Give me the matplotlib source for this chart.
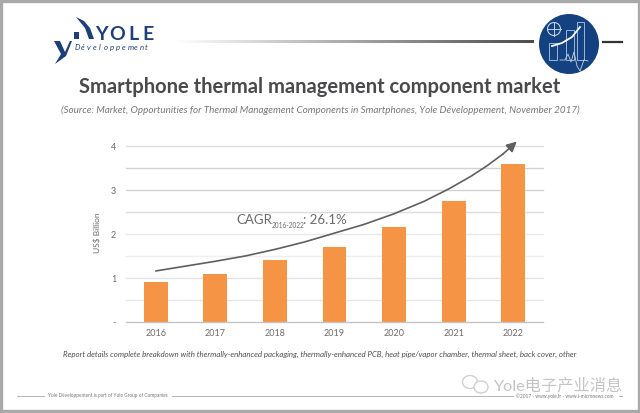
import numpy as np
import matplotlib
matplotlib.use("Agg")
import matplotlib.pyplot as plt
from matplotlib.patches import Circle, Polygon, Rectangle, Ellipse

plt.rcParams['font.family'] = ['Lato', 'Noto Sans CJK SC', 'DejaVu Sans']

# Chart data
years = ['2016', '2017', '2018', '2019', '2020', '2021', '2022']
market = [0.90, 1.10, 1.41, 1.71, 2.16, 2.74, 3.60]
y_ticks = [0, 1, 2, 3, 4]
y_tick_labels = ['-', '1', '2', '3', '4']
grid_levels = [0.5, 1, 1.5, 2, 2.5, 3, 3.5, 4]
grid_colors = ['#e6e6e6', '#e2e2e2', '#efefef', '#e8e8e8', '#dcdcdc', '#d2d2d4', '#d2d2d4', '#dcdcdc']

# CAGR arrow, category position against value
curve_x = [0, 0.5, 1, 1.5, 2, 2.5, 3, 3.5, 4, 4.5, 4.94, 5.3, 5.56, 5.83, 6.06]
curve_y = [1.16, 1.27, 1.38, 1.50, 1.65, 1.82, 2.02, 2.22, 2.46, 2.74, 3.04, 3.32, 3.55, 3.82, 4.10]

GREY = '#6b6b6d'
NAVY = '#1d3f77'

fig = plt.figure(figsize=(6.4, 4.13), dpi=100, facecolor='white')

# Page furniture in pixel coordinates
bg = fig.add_axes([0, 0, 1, 1], zorder=0)
bg.axis('off')

bg.add_patch(Rectangle((1, 1), 637.5, 409.5, fill=False, ec='#a9a9a9', lw=2.4))

# Header rule with fade in
fade = np.linspace(1, 0.3, 256).reshape(1, -1)
bg.imshow(fade, extent=(175, 534, 43.5, 40.8), cmap='gray', vmin=0, vmax=1, aspect='auto')
bg.set_xlim(0, 640)
bg.set_ylim(413, 0)
bg.plot([603, 622], [42, 42], color='#333333', lw=1.6)

# Logo
bg.add_patch(Polygon([(76, 17), (84, 21), (90, 28), (94, 39), (89, 39), (85, 28)], color=NAVY, lw=0))
bg.add_patch(Rectangle((74, 32), 5, 7, color=NAVY, lw=0))
bg.add_patch(Polygon([(54, 41), (60, 41), (65, 52), (70, 41), (72, 41), (66, 56), (55, 64), (61, 54)], color=NAVY, lw=0))
for letter, lx in zip('YOLE', [95, 109, 128, 142]):
    bg.text(lx, 34, letter, fontsize=14, fontweight='bold', color=NAVY, va='center', ha='left')
for i, letter in enumerate('Développement'):
    bg.text(75 + i * 5.85, 47.5, letter, fontsize=5.6, style='italic', color=NAVY, va='center', ha='left')

# Badge
bg.add_patch(Circle((569, 44), 30, color='#14417f', lw=0))
for rx, ry, rw, rh in [(549, 43, 8, 17), (566, 30, 8, 30), (577, 22, 7, 38)]:
    bg.add_patch(Rectangle((rx, ry), rw, rh, fill=False, ec='#9db6d6', lw=0.7))
bg.add_patch(Circle((554, 29), 6.5, fill=False, ec='#c4d3e6', lw=0.8))
bg.plot([547.5, 560.5], [29, 29], color='#c4d3e6', lw=0.7)
bg.plot([554, 554], [22.5, 35.5], color='#c4d3e6', lw=0.7)
bg.plot([552, 562, 572, 580], [46, 43, 37, 27], color='white', lw=1.3)
bg.plot([560, 565, 568, 571, 574, 577, 580, 584, 588], [60, 60, 54, 62, 52, 66, 71, 60, 61], color='#c4d3e6', lw=0.6)

# Titles
bg.text(320, 87, 'Smartphone thermal management component market', fontsize=14.5,
        fontweight='bold', color='#4a4a4c', ha='center', va='center')
bg.text(320, 110, '(Source: Market, Opportunities for Thermal Management Components in Smartphones, Yole Développement, November 2017)',
        fontsize=7.1, style='italic', color='#77777a', ha='center', va='center')
bg.text(97, 233, 'US$ Billion', fontsize=6, rotation=90, color=GREY, ha='center', va='center')

# Footer
bg.text(320, 354, 'Report details complete breakdown with thermally-enhanced packaging, thermally-enhanced PCB, heat pipe/vapor chamber, thermal sheet, back cover, other',
        fontsize=5.7, style='italic', color='#4e4e50', ha='center', va='center')
bg.plot([17, 44], [396, 396], color='#b5b5b5', lw=0.7)
bg.plot([172, 513], [396, 396], color='#b5b5b5', lw=0.7)
bg.plot([619, 622], [396, 396], color='#b5b5b5', lw=0.7)
bg.text(48, 396, 'Yole Développement is part of Yole Group of Companies', fontsize=3.4,
        color='#777777', ha='left', va='center')
bg.text(516, 396, '©2017 - www.yole.fr - www.i-micronews.com', fontsize=3.4,
        color='#777777', ha='left', va='center')

# Watermark
bg.add_patch(Ellipse((470, 382), 15, 13, fill=False, ec='#d0d0d0', lw=1))
bg.add_patch(Ellipse((481, 387), 14, 12, facecolor='white', ec='#d0d0d0', lw=1))
bg.text(493, 385, 'Yole电子产业消息', fontsize=11.7, color='#c4c4c4', ha='left', va='center')

# Chart
ax = fig.add_axes([126 / 640, (413 - 322) / 413, 417 / 640, 176 / 413], zorder=1)
ax.patch.set_alpha(0)
x = np.arange(len(years))
for level, c in zip(grid_levels, grid_colors):
    ax.axhline(level, color=c, lw=1, zorder=1, clip_on=False)
ax.bar(x, market, width=0.4, color='#f59445', zorder=2)

ax.plot(curve_x[:-1], curve_y[:-1], color='#5f5f61', lw=1.2, zorder=3, clip_on=False, solid_capstyle='round')
ax.annotate('', xy=(curve_x[-1], curve_y[-1]), xytext=(curve_x[-2], curve_y[-2]), annotation_clip=False,
            arrowprops=dict(arrowstyle='-|>', color='#5f5f61', lw=1.2, mutation_scale=15, shrinkA=0, shrinkB=0), zorder=4)

# CAGR label, three pieces so the subscript can be small
ax.text(1.36, 2.32, 'CAGR', fontsize=9.5, color=GREY, ha='left', va='center')
ax.text(1.94, 2.20, '2016-2022', fontsize=4.7, color=GREY, ha='left', va='center')
ax.text(2.47, 2.32, ': 26.1%', fontsize=9.5, color=GREY, ha='left', va='center')

ax.set_xlim(-0.5, 6.5)
ax.set_ylim(0, 4)
ax.set_xticks(x)
ax.set_xticklabels(years)
ax.set_yticks(y_ticks)
ax.set_yticklabels(y_tick_labels)
ax.tick_params(length=0, labelsize=6.5, colors=GREY)
ax.tick_params(axis='x', pad=5)
ax.tick_params(axis='y', pad=7)
for side in ['top', 'right', 'left']:
    ax.spines[side].set_visible(False)
ax.spines['bottom'].set_color('#c4c4c4')
ax.spines['bottom'].set_linewidth(1)

plt.savefig("out.png", dpi=100)
